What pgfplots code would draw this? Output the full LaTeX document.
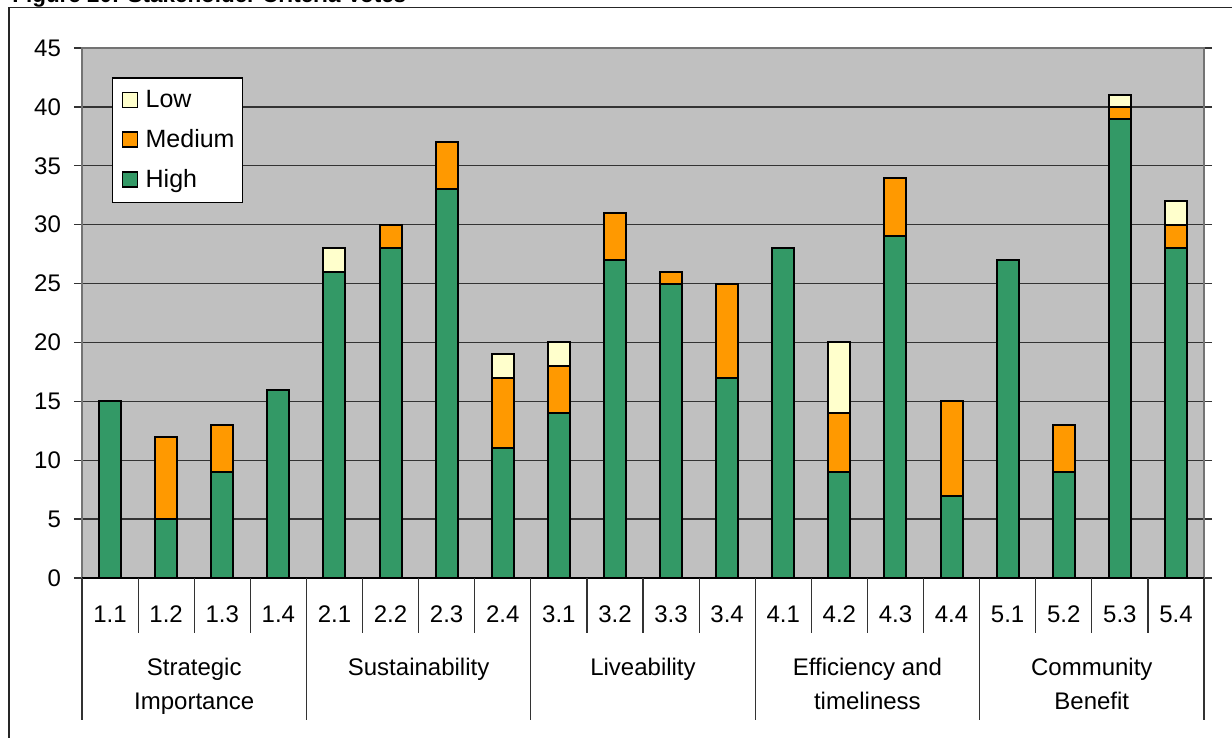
\documentclass[border=0pt]{standalone}
\usepackage{pgfplots}
\usepackage{pgfplotstable}
\pgfplotsset{compat=1.18}
\usepackage{fontspec}
\setmainfont{Liberation Sans}

\definecolor{highgreen}{HTML}{339966}
\definecolor{medorange}{HTML}{FF9900}
\definecolor{lowcream}{HTML}{FFFFCC}
\definecolor{plotgray}{HTML}{C0C0C0}

% votes per criterion: High, Medium, Low
\pgfplotstableread{
x  H  M  L
0  15 0  0
1  5  7  0
2  9  4  0
3  16 0  0
4  26 0  2
5  28 2  0
6  33 4  0
7  11 6  2
8  14 4  2
9  27 4  0
10 25 1  0
11 17 8  0
12 28 0  0
13 9  5  6
14 29 5  0
15 7  8  0
16 27 0  0
17 9  4  0
18 39 1  1
19 28 2  2
}\votes

\tikzset{grouplabel/.style={anchor=base, inner sep=0, font=\fontsize{12}{14}\selectfont}}
\pgfplotsset{squarelegend/.style={legend image code/.code={%
  \draw[##1, line width=0.8pt] (3pt,-3.75pt) rectangle (10.5pt,3.75pt);
  \path[draw=none, fill=none] (0pt,0pt) -- (12.5pt,0pt);}}}

\begin{document}
\begin{tikzpicture}
\useasboundingbox (0,0) rectangle (616pt,369pt);
\clip (0,0) rectangle (616pt,369pt);
% figure caption and frame
\node[anchor=base west, inner sep=0, font=\fontsize{11.2}{13}\selectfont\bfseries] at (6pt,367.5pt) {Figure 20: Stakeholder Criteria Votes};
\draw[line width=0.7pt, black!85] (4.5pt,-10pt) -- (4.5pt,365.25pt) -- (640pt,365.25pt);

\begin{axis}[
  at={(41pt,80pt)}, anchor=south west,
  scale only axis, width=561pt, height=265pt,
  ybar stacked, bar width=11pt,
  xmin=-0.5, xmax=19.5, ymin=0, ymax=45,
  ytick={0,5,...,45},
  xtick=data,
  xticklabels={1.1,1.2,1.3,1.4,2.1,2.2,2.3,2.4,3.1,3.2,3.3,3.4,4.1,4.2,4.3,4.4,5.1,5.2,5.3,5.4},
  xtick style={draw=none},
  xticklabel style={anchor=base, yshift=-22.5pt},
  ytick align=outside, major tick length=4pt,
  ytick style={black!80, line width=0.7pt},
  yticklabel style={anchor=east, xshift=-3pt},
  ticklabel style={font=\fontsize{12}{14}\selectfont},
  /pgf/number format/assume math mode=true,
  ymajorgrids, major grid style={black!80, line width=0.7pt},
  axis background/.style={fill=plotgray},
  axis line style={black!55, line width=0.7pt},
  clip=false,
  reverse legend,
  legend cell align=left,
  squarelegend,
  legend style={at={(0.0267,0.945)}, anchor=north west, draw=black, line width=0.7pt, fill=white,
    font=\fontsize{12.5}{14}\selectfont, row sep=5.5pt, inner xsep=2pt, inner ysep=4pt},
]
\addplot[fill=highgreen, draw=black, line width=1pt] table[x=x, y=H] {\votes};
\addplot[fill=medorange, draw=black, line width=1pt] table[x=x, y=M] {\votes};
\addplot[fill=lowcream, draw=black, line width=1pt]  table[x=x, y=L] {\votes};
\legend{High,Medium,Low}

% separators between criteria and between groups
\draw[black!80, line width=0.6pt]
  (axis cs:0.5,0) -- ++(0pt,-27.5pt) (axis cs:1.5,0) -- ++(0pt,-27.5pt) (axis cs:2.5,0) -- ++(0pt,-27.5pt)
  (axis cs:4.5,0) -- ++(0pt,-27.5pt) (axis cs:5.5,0) -- ++(0pt,-27.5pt) (axis cs:6.5,0) -- ++(0pt,-27.5pt)
  (axis cs:8.5,0) -- ++(0pt,-27.5pt) (axis cs:9.5,0) -- ++(0pt,-27.5pt) (axis cs:10.5,0) -- ++(0pt,-27.5pt)
  (axis cs:12.5,0) -- ++(0pt,-27.5pt) (axis cs:13.5,0) -- ++(0pt,-27.5pt) (axis cs:14.5,0) -- ++(0pt,-27.5pt)
  (axis cs:16.5,0) -- ++(0pt,-27.5pt) (axis cs:17.5,0) -- ++(0pt,-27.5pt) (axis cs:18.5,0) -- ++(0pt,-27.5pt)
  (axis cs:-0.5,0) -- ++(0pt,-71pt) (axis cs:3.5,0) -- ++(0pt,-71pt) (axis cs:7.5,0) -- ++(0pt,-71pt)
  (axis cs:11.5,0) -- ++(0pt,-71pt) (axis cs:15.5,0) -- ++(0pt,-71pt) (axis cs:19.5,0) -- ++(0pt,-71pt);
\draw[black, line width=0.7pt] (axis cs:-0.5,0) -- (axis cs:19.5,0);

% group names
\node[grouplabel, yshift=-49pt] at (axis cs:1.5,0) {Strategic};
\node[grouplabel, yshift=-66pt] at (axis cs:1.5,0) {Importance};
\node[grouplabel, yshift=-49pt] at (axis cs:5.5,0) {Sustainability};
\node[grouplabel, yshift=-49pt] at (axis cs:9.5,0) {Liveability};
\node[grouplabel, yshift=-49pt] at (axis cs:13.5,0) {Efficiency and};
\node[grouplabel, yshift=-66pt] at (axis cs:13.5,0) {timeliness};
\node[grouplabel, yshift=-49pt] at (axis cs:17.5,0) {Community};
\node[grouplabel, yshift=-66pt] at (axis cs:17.5,0) {Benefit};
\end{axis}
\end{tikzpicture}
\end{document}
